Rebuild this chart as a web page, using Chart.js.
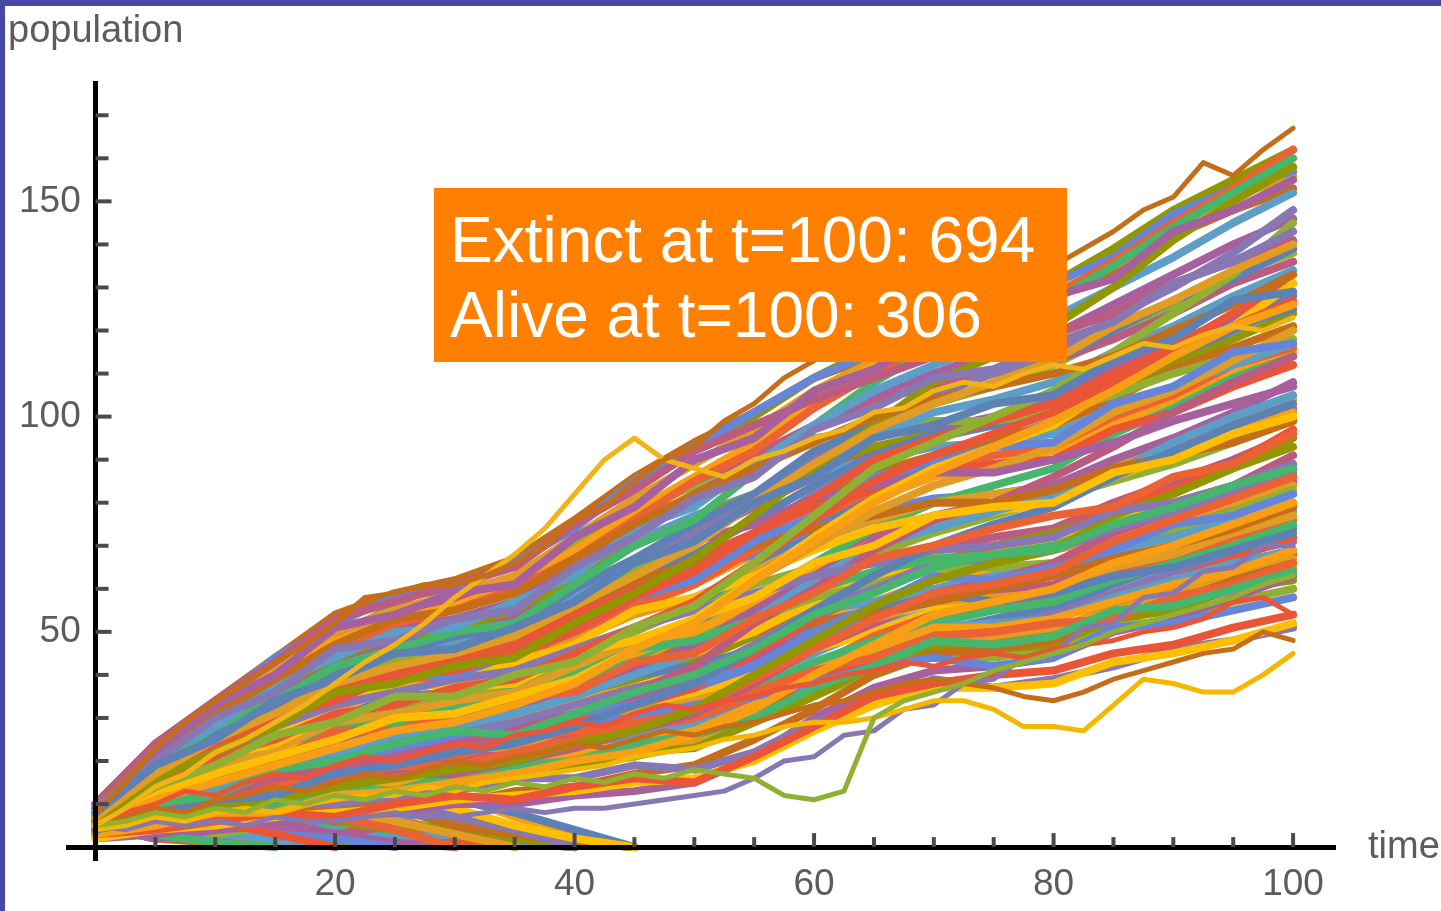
<!DOCTYPE html>
<html>
<head>
<meta charset="utf-8">
<script src="https://cdn.jsdelivr.net/npm/chart.js@4.4.1/dist/chart.umd.min.js"></script>
<style>
  html, body { margin: 0; padding: 0; background: #fff; }
  body { width: 1441px; height: 911px; overflow: hidden; position: relative; font-family: "Liberation Sans", Arial, sans-serif; }
  #plot { position: absolute; left: 0; top: 0; }
  .frame { position: absolute; background: #4547a9; }
  #frameTop { left: 0; top: 0; width: 1441px; height: 6px; }
  #frameLeft { left: 0; top: 0; width: 5px; height: 911px; }
  .axisName { position: absolute; color: #5c5c5c; font-size: 38px; line-height: 38px; white-space: nowrap; }
  #yName { left: 8px; top: 10px; }
  #xName { left: 1368px; top: 826px; }
  #note {
    position: absolute; left: 434px; top: 188px; width: 617px; height: 174px;
    padding-left: 16px; box-sizing: content-box;
    background: #ff7f00; color: #fff; font-size: 64px; line-height: 75px;
  }
  #note div:first-child { margin-top: 15px; }
</style>
</head>
<body>
<canvas id="plot" width="1441" height="911"></canvas>
<div class="frame" id="frameTop"></div>
<div class="frame" id="frameLeft"></div>
<div class="axisName" id="yName">population</div>
<div class="axisName" id="xName">time</div>
<div id="note"><div>Extinct at t=100: 694</div><div>Alive at t=100: 306</div></div>
<script>
// sample times
const tCoarse = [0, 5, 10, 15, 20, 25, 30, 35, 40, 45, 50, 55, 60, 65, 70, 75, 80, 85, 90, 95, 100];
const tFine = [0, 2.5, 5, 7.5, 10, 12.5, 15, 17.5, 20, 22.5, 25, 27.5, 30, 32.5, 35, 37.5, 40, 42.5, 45, 47.5,
  50, 52.5, 55, 57.5, 60, 62.5, 65, 67.5, 70, 72.5, 75, 77.5, 80, 82.5, 85, 87.5, 90, 92.5, 95, 97.5, 100];

// axis ticks
const xTicks = [20, 40, 60, 80, 100];
const yTicks = [50, 100, 150];
const xMinorTicks = [5, 10, 15, 20, 25, 30, 35, 40, 45, 50, 55, 60, 65, 70, 75, 80, 85, 90, 95, 100];
const yMinorTicks = [10, 20, 30, 40, 50, 60, 70, 80, 90, 100, 110, 120, 130, 140, 150, 160, 170];

// edge runs that stand out (read on the fine time grid)
const topRun = [8, 15, 23, 29, 34, 38, 43, 47, 52, 58, 59, 61, 61, 63, 66, 70, 76, 79, 85, 90,
  93, 99, 103, 109, 113, 117, 119, 123, 125, 128, 130, 133, 135, 139, 143, 148, 151, 159, 156, 162, 167];
const yellowSpike = [5, 9, 14, 17, 22, 25, 29, 33, 38, 43, 47, 52, 58, 63, 68, 74, 82, 90, 95, 90,
  88, 86, 90, 92, 95, 97, 101, 102, 106, 108, 107, 110, 112, 111, 114, 117, 116, 119, 121, 120, 123];
const greenDip = [5, 6, 8, 7, 9, 8, 11, 10, 12, 11, 13, 12, 14, 13, 15, 14, 16, 15, 17, 16,
  18, 17, 16, 12, 11, 13, 30, 34, 36, 38, 41, 43, 45, 47, 50, 52, 54, 56, 58, 61, 63];
const yellowLow = [4, 5, 7, 6, 8, 9, 8, 10, 11, 12, 12, 14, 13, 15, 16, 17, 18, 19, 21, 22,
  23, 25, 26, 28, 29, 29, 30, 32, 34, 34, 32, 28, 28, 27, 33, 39, 38, 36, 36, 40, 45];
const brownLow = [5, 7, 9, 8, 11, 12, 14, 13, 15, 17, 16, 18, 20, 19, 21, 22, 24, 23, 25, 27,
  26, 28, 29, 31, 33, 34, 36, 38, 39, 38, 37, 35, 34, 36, 39, 41, 43, 45, 46, 50, 48];
const redLow = [5, 8, 10, 13, 12, 15, 17, 16, 19, 21, 20, 22, 24, 23, 26, 27, 29, 28, 31, 33,
  32, 34, 35, 37, 38, 40, 41, 43, 42, 44, 45, 44, 46, 47, 48, 50, 51, 53, 57, 58, 54];
const purpleLow = [5, 4, 6, 5, 6, 5, 7, 6, 6, 7, 8, 7, 7, 8, 9, 8, 9, 9, 10, 11,
  12, 13, 16, 20, 21, 26, 27, 32, 33, 38, 39, 44, 45, 51, 52, 58, 59, 64, 65, 70, 70];

// bulk of surviving runs (coarse time grid)
const runsUpper = [
  [8, 19, 25, 34, 39, 45, 46, 51, 57, 66, 71, 80, 86, 95, 98, 103, 105, 113, 118, 127, 129],
  [9, 20, 30, 36, 46, 48, 53, 55, 65, 72, 81, 86, 97, 102, 109, 111, 117, 122, 131, 136, 143],
  [8, 22, 33, 40, 51, 54, 59, 61, 72, 79, 90, 95, 106, 111, 119, 121, 128, 132, 143, 148, 155],
  [5, 11, 15, 19, 23, 27, 29, 33, 38, 46, 52, 62, 71, 80, 87, 93, 99, 106, 114, 121, 126],
  [7, 17, 25, 31, 38, 42, 45, 49, 56, 63, 70, 80, 89, 97, 103, 108, 113, 121, 127, 134, 140],
  [9, 22, 31, 39, 47, 53, 55, 59, 67, 75, 82, 88, 94, 100, 104, 107, 110, 114, 120, 126, 133],
  [6, 16, 22, 28, 36, 38, 42, 44, 52, 59, 67, 77, 88, 98, 108, 114, 121, 130, 141, 150, 158],
  [10, 24, 34, 43, 53, 57, 61, 65, 75, 83, 92, 98, 104, 109, 114, 116, 119, 124, 131, 136, 141],
  [6, 14, 19, 26, 29, 35, 35, 40, 43, 51, 56, 66, 77, 88, 94, 100, 106, 115, 124, 133, 145],
  [8, 21, 28, 38, 44, 50, 51, 57, 63, 74, 79, 89, 98, 106, 112, 117, 123, 130, 137, 145, 152],
  [6, 14, 21, 25, 31, 33, 37, 39, 45, 51, 57, 66, 76, 85, 91, 96, 101, 108, 114, 121, 127],
  [8, 19, 28, 34, 42, 46, 50, 52, 61, 70, 76, 87, 98, 108, 116, 121, 127, 135, 144, 152, 160],
  [9, 22, 30, 40, 46, 52, 55, 60, 67, 76, 85, 92, 102, 110, 117, 122, 128, 136, 145, 153, 162],
  [5, 12, 17, 21, 25, 30, 31, 35, 39, 46, 53, 62, 72, 81, 88, 93, 98, 107, 114, 121, 131],
  [10, 24, 33, 44, 52, 58, 60, 66, 74, 85, 93, 101, 109, 115, 121, 125, 131, 137, 147, 153, 157],
  [8, 18, 27, 33, 41, 45, 49, 51, 60, 67, 75, 82, 92, 98, 104, 107, 113, 120, 127, 132, 139],
  [8, 18, 25, 34, 39, 45, 46, 51, 57, 66, 73, 81, 90, 99, 105, 110, 115, 123, 130, 138, 148],
  [9, 21, 30, 37, 46, 51, 53, 57, 66, 74, 82, 89, 98, 105, 110, 115, 119, 126, 133, 140, 146],
  [9, 22, 31, 40, 48, 53, 56, 61, 69, 78, 86, 94, 104, 112, 118, 123, 129, 135, 143, 150, 158],
  [10, 23, 33, 42, 50, 55, 59, 63, 72, 81, 89, 97, 106, 113, 119, 124, 128, 135, 144, 151, 156],
  [10, 24, 34, 44, 54, 59, 62, 67, 76, 86, 94, 101, 109, 114, 120, 124, 128, 134, 142, 148, 153],
  [10, 24, 34, 44, 53, 58, 61, 66, 75, 84, 93, 100, 109, 116, 122, 127, 131, 139, 148, 155, 162],
  [9, 22, 32, 40, 49, 54, 57, 61, 69, 78, 85, 91, 98, 104, 107, 110, 113, 118, 124, 131, 136],
  [7, 18, 25, 32, 39, 43, 46, 50, 56, 64, 71, 80, 89, 97, 103, 107, 112, 119, 126, 133, 138],
  [8, 17, 27, 33, 41, 46, 47, 52, 59, 66, 74, 80, 89, 95, 101, 104, 108, 115, 121, 128, 134],
  [7, 16, 22, 30, 34, 40, 41, 45, 50, 58, 64, 73, 81, 90, 95, 99, 103, 110, 116, 124, 131]
];
const runsMiddle = [
  [5, 10, 12, 18, 20, 24, 27, 26, 31, 36, 40, 46, 54, 59, 65, 68, 69, 75, 79, 84, 88],
  [6, 11, 17, 20, 27, 27, 31, 35, 36, 43, 45, 53, 59, 67, 70, 74, 77, 79, 86, 89, 96],
  [5, 13, 21, 24, 31, 33, 37, 38, 45, 48, 53, 58, 66, 70, 77, 79, 80, 87, 90, 96, 100],
  [7, 15, 22, 30, 34, 40, 40, 45, 50, 58, 62, 71, 77, 86, 89, 93, 94, 103, 107, 115, 117],
  [4, 7, 11, 12, 17, 19, 22, 24, 28, 33, 38, 46, 55, 63, 70, 75, 79, 86, 92, 98, 103],
  [6, 15, 21, 28, 33, 36, 39, 41, 46, 51, 55, 59, 63, 66, 69, 70, 72, 78, 80, 84, 89],
  [7, 19, 27, 35, 42, 47, 49, 53, 60, 66, 71, 75, 81, 84, 87, 87, 90, 94, 99, 103, 107],
  [3, 5, 8, 8, 12, 13, 15, 17, 20, 22, 26, 32, 40, 47, 54, 57, 60, 66, 70, 75, 80],
  [6, 12, 18, 23, 29, 31, 34, 36, 42, 48, 52, 62, 70, 78, 84, 88, 93, 101, 106, 113, 120],
  [8, 18, 27, 32, 41, 43, 48, 49, 56, 62, 66, 70, 74, 77, 80, 80, 83, 88, 91, 94, 99],
  [3, 6, 10, 11, 14, 16, 18, 20, 24, 27, 32, 40, 48, 56, 62, 66, 69, 77, 82, 88, 95],
  [4, 8, 12, 16, 18, 21, 24, 27, 31, 36, 42, 52, 60, 69, 76, 80, 86, 93, 101, 108, 114],
  [9, 23, 32, 42, 49, 56, 57, 62, 70, 78, 84, 89, 95, 97, 99, 99, 101, 105, 110, 114, 118],
  [5, 11, 14, 20, 22, 26, 28, 31, 35, 40, 45, 53, 62, 70, 74, 78, 82, 87, 94, 100, 105],
  [7, 17, 24, 32, 37, 41, 44, 47, 54, 60, 67, 73, 79, 83, 87, 89, 90, 97, 101, 107, 112],
  [6, 13, 17, 24, 27, 32, 32, 37, 40, 46, 48, 53, 60, 64, 67, 68, 70, 75, 79, 84, 88],
  [4, 8, 9, 14, 15, 19, 19, 22, 25, 28, 32, 39, 46, 53, 59, 61, 64, 71, 76, 81, 86],
  [6, 15, 22, 27, 33, 37, 38, 43, 47, 55, 58, 63, 69, 74, 77, 78, 80, 86, 91, 95, 100],
  [5, 9, 14, 16, 22, 22, 26, 27, 31, 33, 38, 42, 50, 56, 63, 62, 65, 69, 75, 77, 82],
  [7, 16, 24, 31, 38, 42, 44, 49, 54, 62, 68, 76, 84, 91, 96, 98, 102, 109, 115, 121, 125],
  [5, 10, 14, 19, 22, 25, 27, 29, 33, 37, 40, 47, 55, 60, 66, 67, 69, 74, 78, 82, 87],
  [5, 11, 16, 19, 25, 27, 30, 32, 37, 41, 47, 55, 63, 71, 76, 80, 84, 90, 95, 101, 108],
  [6, 13, 18, 22, 28, 31, 33, 36, 41, 45, 50, 57, 64, 71, 75, 78, 80, 86, 91, 96, 101],
  [6, 15, 21, 27, 32, 37, 38, 42, 48, 54, 58, 64, 71, 76, 80, 82, 84, 89, 94, 98, 104],
  [7, 15, 24, 28, 37, 39, 43, 46, 52, 60, 64, 72, 80, 87, 91, 95, 98, 104, 111, 116, 121],
  [8, 20, 28, 36, 43, 48, 51, 54, 62, 70, 76, 82, 88, 93, 96, 98, 101, 106, 112, 118, 124],
  [3, 6, 10, 11, 14, 17, 17, 20, 23, 27, 31, 38, 46, 53, 59, 62, 66, 73, 78, 84, 91],
  [6, 14, 19, 26, 29, 33, 35, 38, 42, 47, 49, 53, 58, 61, 65, 65, 66, 71, 74, 78, 83],
  [8, 21, 29, 38, 44, 50, 51, 57, 63, 71, 77, 82, 87, 90, 93, 94, 96, 102, 107, 112, 117],
  [4, 9, 11, 16, 18, 22, 22, 25, 29, 33, 37, 45, 53, 60, 66, 70, 72, 79, 83, 89, 97],
  [5, 12, 17, 20, 27, 28, 31, 33, 38, 44, 50, 58, 66, 74, 80, 84, 88, 96, 102, 109, 114],
  [7, 15, 23, 28, 35, 38, 40, 45, 49, 56, 61, 69, 76, 83, 87, 91, 93, 100, 105, 112, 116],
  [5, 12, 17, 21, 27, 28, 31, 33, 38, 42, 45, 50, 57, 63, 67, 69, 70, 76, 80, 84, 89],
  [7, 17, 24, 31, 38, 41, 44, 47, 54, 60, 64, 68, 74, 78, 81, 82, 84, 88, 92, 97, 101],
  [6, 14, 20, 26, 30, 35, 36, 40, 44, 51, 56, 65, 74, 83, 89, 94, 99, 106, 113, 120, 128],
  [7, 16, 23, 29, 36, 40, 43, 46, 52, 58, 65, 73, 82, 89, 95, 98, 101, 108, 114, 120, 126],
  [8, 19, 26, 33, 40, 44, 47, 51, 58, 65, 72, 79, 86, 92, 97, 100, 104, 111, 117, 123, 129],
  [6, 15, 22, 28, 34, 37, 40, 43, 49, 55, 61, 68, 75, 81, 86, 89, 92, 98, 104, 110, 115],
  [5, 11, 16, 20, 24, 27, 30, 33, 38, 43, 50, 55, 58, 62, 64, 66, 69, 72, 76, 80, 84],
  [6, 12, 17, 21, 25, 28, 31, 34, 39, 44, 47, 50, 52, 54, 57, 60, 63, 67, 70, 74, 79],
  [5, 10, 15, 19, 24, 27, 29, 33, 37, 42, 47, 52, 57, 62, 66, 68, 70, 73, 77, 81, 87],
  [6, 13, 18, 23, 27, 31, 33, 37, 42, 47, 52, 58, 66, 72, 77, 80, 84, 88, 92, 96, 102],
  [7, 14, 20, 24, 30, 33, 35, 39, 45, 50, 56, 61, 65, 68, 73, 77, 81, 85, 89, 94, 99],
  [5, 12, 16, 21, 26, 29, 31, 34, 40, 45, 51, 54, 55, 57, 60, 63, 65, 69, 72, 77, 82]
];
const runsLower = [
  [3, 4, 6, 8, 7, 10, 12, 11, 14, 16, 15, 21, 28, 35, 38, 40, 41, 45, 47, 51, 54],
  [5, 6, 9, 10, 14, 13, 17, 19, 20, 24, 26, 30, 37, 42, 48, 47, 49, 55, 56, 60, 64],
  [4, 9, 12, 15, 19, 22, 21, 25, 27, 29, 31, 36, 41, 44, 49, 50, 52, 53, 58, 61, 66],
  [2, 4, 5, 7, 8, 9, 11, 12, 13, 15, 16, 20, 27, 33, 37, 37, 38, 43, 45, 48, 52],
  [4, 9, 14, 16, 21, 22, 25, 25, 29, 30, 33, 35, 38, 42, 44, 42, 44, 51, 52, 55, 58],
  [5, 12, 16, 22, 25, 29, 29, 34, 36, 40, 42, 46, 52, 55, 59, 57, 59, 63, 65, 69, 73],
  [3, 5, 6, 10, 10, 12, 13, 16, 16, 19, 18, 22, 29, 34, 39, 37, 39, 42, 46, 48, 51],
  [2, 3, 5, 6, 7, 8, 10, 10, 12, 13, 15, 21, 30, 37, 41, 42, 44, 50, 53, 58, 63],
  [3, 7, 8, 12, 14, 15, 17, 19, 22, 24, 27, 33, 41, 46, 51, 51, 53, 57, 61, 64, 69],
  [4, 8, 12, 15, 20, 20, 23, 23, 28, 31, 34, 38, 46, 53, 57, 58, 59, 65, 68, 73, 77],
  [3, 5, 5, 8, 9, 11, 10, 13, 14, 17, 19, 25, 32, 40, 45, 46, 48, 54, 57, 62, 66],
  [4, 6, 8, 11, 12, 14, 15, 17, 19, 22, 23, 29, 35, 42, 46, 46, 47, 53, 55, 60, 62],
  [4, 8, 11, 13, 17, 20, 20, 23, 26, 29, 32, 39, 46, 52, 58, 59, 61, 67, 70, 74, 79],
  [4, 10, 12, 18, 20, 24, 23, 27, 28, 32, 33, 35, 38, 41, 45, 44, 46, 51, 53, 57, 60],
  [4, 7, 9, 13, 15, 18, 18, 21, 23, 26, 28, 33, 40, 47, 51, 52, 53, 58, 62, 66, 69],
  [4, 7, 10, 12, 15, 17, 19, 20, 23, 26, 28, 33, 38, 44, 49, 50, 53, 58, 62, 67, 72],
  [5, 8, 11, 14, 18, 19, 22, 24, 27, 29, 32, 37, 43, 48, 52, 55, 57, 62, 66, 70, 75],
  [3, 6, 9, 12, 14, 17, 20, 21, 24, 27, 30, 35, 42, 49, 54, 56, 58, 64, 67, 72, 76],
  [4, 9, 13, 16, 19, 21, 24, 26, 28, 31, 35, 40, 46, 50, 55, 58, 60, 66, 71, 75, 80],
  [5, 10, 12, 15, 17, 20, 23, 25, 29, 33, 36, 42, 48, 54, 58, 61, 64, 68, 73, 77, 84],
  [3, 7, 9, 11, 13, 16, 18, 21, 22, 25, 29, 34, 40, 45, 50, 53, 56, 61, 66, 70, 74],
  [4, 8, 11, 14, 16, 18, 21, 22, 25, 28, 31, 35, 41, 46, 50, 51, 55, 59, 64, 68, 71],
  [5, 9, 13, 17, 20, 23, 26, 28, 31, 35, 39, 44, 50, 55, 59, 61, 64, 69, 74, 79, 85],
  [6, 11, 15, 18, 22, 25, 27, 30, 34, 37, 41, 46, 52, 57, 62, 64, 66, 72, 76, 81, 86],
  [3, 5, 7, 10, 12, 14, 16, 17, 19, 22, 25, 30, 36, 42, 47, 49, 51, 55, 59, 63, 67],
  [4, 6, 9, 11, 14, 15, 18, 19, 21, 23, 27, 31, 37, 43, 47, 48, 50, 56, 60, 64, 68],
  [5, 11, 15, 19, 23, 26, 28, 31, 35, 39, 43, 49, 56, 62, 67, 70, 73, 78, 83, 88, 93],
  [6, 12, 17, 21, 24, 28, 30, 33, 38, 42, 46, 52, 58, 64, 69, 72, 74, 80, 85, 90, 96],
  [3, 6, 8, 9, 12, 13, 15, 16, 19, 21, 24, 29, 35, 41, 45, 45, 47, 52, 56, 60, 65],
  [5, 9, 12, 16, 19, 20, 24, 25, 28, 30, 34, 39, 45, 51, 55, 57, 61, 65, 70, 74, 78]
];
// runs that die out (stop once they hit 0)
const runsExtinct = [
  [5, 8, 6, 3, 0],
  [5, 3, 1, 0],
  [5, 9, 12, 10, 7, 4, 0],
  [5, 7, 10, 13, 15, 12, 9, 5, 2, 0],
  [5, 4, 6, 3, 2, 0],
  [5, 10, 14, 12, 16, 13, 11, 8, 4, 0],
  [5, 6, 9, 8, 11, 9, 7, 4, 0],
  [5, 2, 4, 5, 3, 1, 0],
  [5, 8, 11, 15, 18, 16, 12, 7, 3, 0],
  [5, 6, 4, 7, 9, 6, 3, 0],
  [5, 7, 5, 8, 6, 9, 5, 3, 1, 0],
  [5, 4, 7, 9, 6, 4, 5, 2, 0],
  [5, 3, 4, 6, 3, 5, 4, 2, 0],
  [5, 6, 3, 5, 7, 4, 6, 3, 2, 0],
  [5, 2, 3, 2, 4, 2, 3, 1, 0],
  [5, 4, 2, 4, 3, 5, 2, 1, 0],
  [5, 7, 4, 2, 5, 3, 6, 4, 1, 0],
  [5, 3, 5, 2, 4, 6, 4, 3, 2, 0],
  [5, 6, 4, 5, 3, 6, 4, 3, 0],
  [5, 7, 6, 8, 5, 7, 8, 5, 2, 0],
  [5, 4, 5, 3, 5, 4, 2, 3, 0],
  [5, 2, 4, 6, 4, 3, 5, 2, 0],
  [5, 5, 3, 6, 8, 6, 4, 2, 0],
  [5, 3, 2, 4, 3, 2, 4, 3, 0],
  [5, 4, 3, 2, 3, 4, 3, 2, 1, 0],
  [5, 2, 1, 3, 2, 3, 1, 2, 0],
  [5, 3, 4, 3, 1, 2, 3, 1, 0],
  [5, 6, 5, 4, 6, 5, 3, 4, 2, 0],
  [5, 4, 6, 5, 4, 3, 4, 2, 1, 0],
  [5, 3, 2, 1, 2, 1, 2, 1, 0],
  [5, 5, 4, 3, 4, 3, 2, 2, 1, 0]
];

// Mathematica default plot colours
const palette = ["#5E81B5", "#E19C24", "#8FB032", "#EB6235", "#8778B3", "#C56E1A", "#5D9EC7", "#FFBF00",
  "#A5609D", "#929600", "#E95536", "#6685D9", "#F89F13", "#BC5B80", "#47B66D"];

function toPoints(times, values) {
  return values.map((v, i) => ({ x: times[i], y: v }));
}

function runDataset(times, values, color, width) {
  return {
    data: toPoints(times, values),
    borderColor: color,
    borderWidth: width,
    pointRadius: 0,
    tension: 0,
    borderJoinStyle: "round",
    borderCapStyle: "round",
    fill: false,
  };
}

const datasets = [
  runDataset(tFine, topRun, "#C56E1A", 5),
  runDataset(tFine, yellowSpike, "#F2B414", 5),
  runDataset(tFine, greenDip, "#8FB032", 5),
  runDataset(tFine, yellowLow, "#F5B800", 5),
  runDataset(tFine, brownLow, "#C56E1A", 5),
  runDataset(tFine, redLow, "#E95536", 5),
  runDataset(tFine, purpleLow, "#8778B3", 5),
];
let colorIdx = 0;
[runsUpper, runsMiddle, runsLower, runsExtinct].forEach((group) => {
  group.forEach((run) => {
    datasets.push(runDataset(tCoarse, run, palette[colorIdx % palette.length], 8));
    colorIdx += 4;
  });
});

// small tick marks on the inner side of both axes
const tickMarks = {
  id: "tickMarks",
  afterDraw(chart) {
    const { ctx } = chart;
    const x = chart.scales.x;
    const y = chart.scales.y;
    const x0 = x.getPixelForValue(0);
    const y0 = y.getPixelForValue(0);
    ctx.save();
    ctx.strokeStyle = "#4a4a4a";
    ctx.lineWidth = 4;
    xMinorTicks.forEach((v) => {
      const px = x.getPixelForValue(v);
      const len = xTicks.includes(v) ? 14 : 10;
      ctx.beginPath();
      ctx.moveTo(px, y0);
      ctx.lineTo(px, y0 - len);
      ctx.stroke();
    });
    yMinorTicks.forEach((v) => {
      const py = y.getPixelForValue(v);
      const len = yTicks.includes(v) ? 16 : 13;
      ctx.beginPath();
      ctx.moveTo(x0, py);
      ctx.lineTo(x0 + len, py);
      ctx.stroke();
    });
    ctx.restore();
  },
};

const tickFont = { family: "'Liberation Sans', Arial, sans-serif", size: 37 };

new Chart(document.getElementById("plot"), {
  type: "line",
  data: { datasets: datasets },
  options: {
    responsive: false,
    devicePixelRatio: 1,
    animation: false,
    events: [],
    layout: { padding: { left: 68, right: 106, top: 83, bottom: 51 } },
    plugins: { legend: { display: false }, tooltip: { enabled: false } },
    scales: {
      x: {
        type: "linear",
        min: -2.3,
        max: 103.5,
        position: { y: 0 },
        grid: { display: false, drawTicks: false },
        border: { display: true, color: "#000", width: 5, z: 1 },
        afterBuildTicks: (s) => { s.ticks = xTicks.map((v) => ({ value: v })); },
        ticks: { color: "#5c5c5c", font: tickFont, padding: 16, maxRotation: 0, autoSkip: false },
      },
      y: {
        type: "linear",
        min: -3,
        max: 177.5,
        position: { x: 0 },
        grid: { display: false, drawTicks: false },
        border: { display: true, color: "#000", width: 5, z: 1 },
        afterBuildTicks: (s) => { s.ticks = yTicks.map((v) => ({ value: v })); },
        // labels on a centred axis get no padding, so two thin spaces keep them off the line
        ticks: { color: "#5c5c5c", font: tickFont, autoSkip: false, callback: (v) => v + "\u2009\u2009" },
      },
    },
  },
  plugins: [tickMarks],
});
</script>
</body>
</html>
